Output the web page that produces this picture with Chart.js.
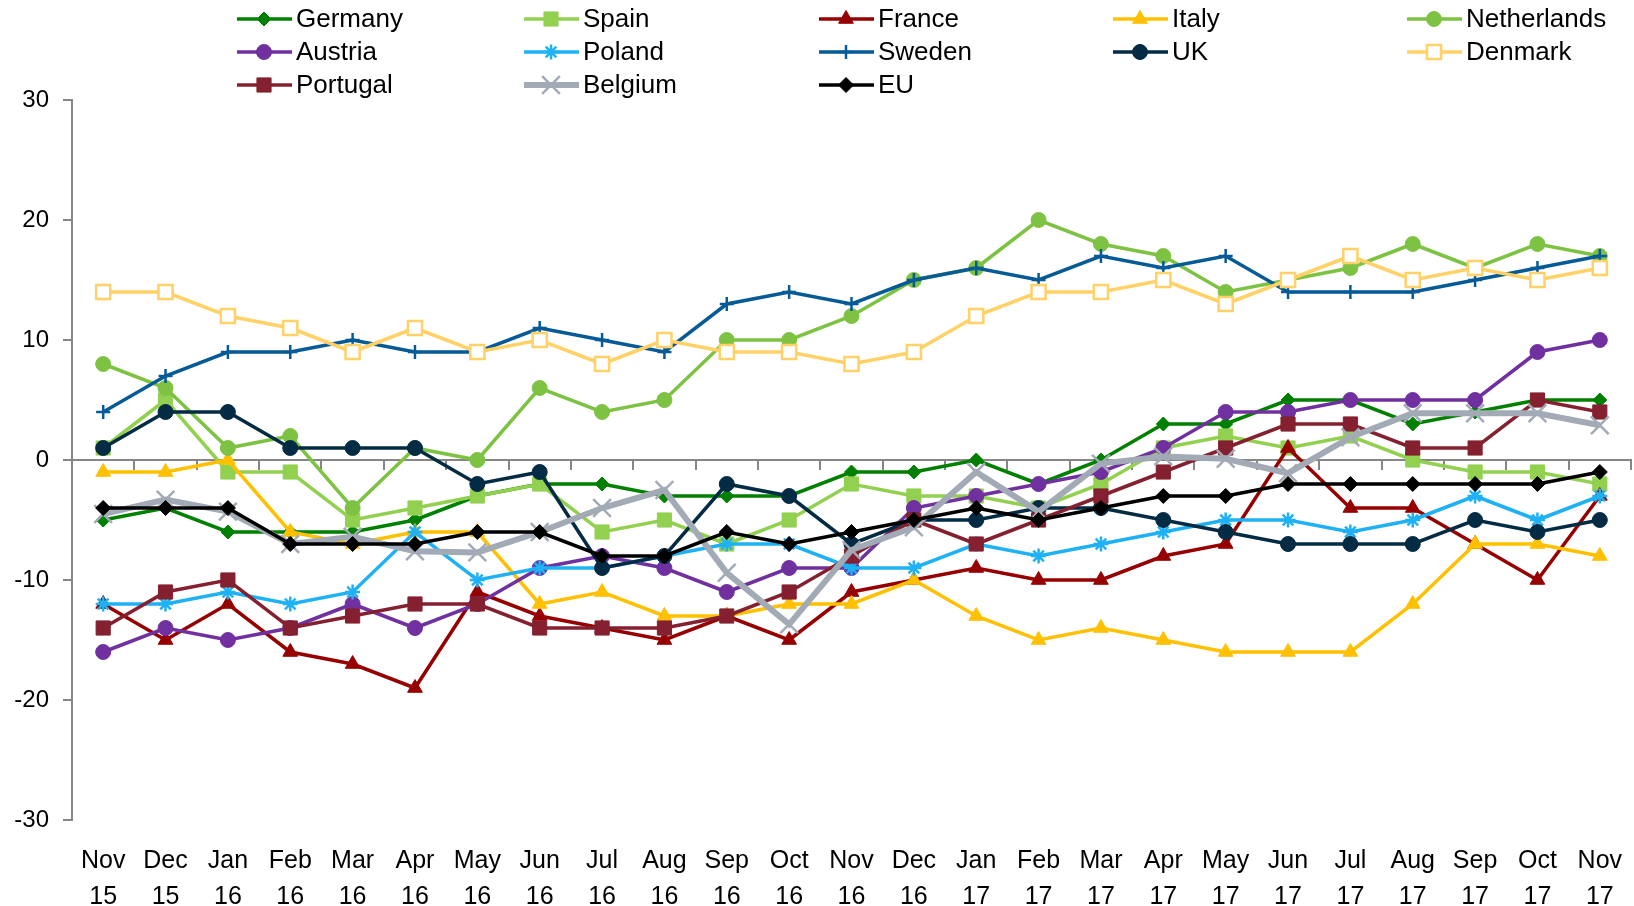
<!DOCTYPE html>
<html>
<head>
<meta charset="utf-8">
<title>Consumer confidence by country</title>
<script src="https://cdn.jsdelivr.net/npm/chart.js@4.4.1/dist/chart.umd.min.js"></script>
<style>
  html, body { margin: 0; padding: 0; background: #fff; }
  #wrap { width: 1634px; height: 906px; position: relative; }
</style>
</head>
<body>
<div id="wrap"><canvas id="chart"></canvas></div>
<script>
// ---------- Data ----------
const months = ["Nov", "Dec", "Jan", "Feb", "Mar", "Apr", "May", "Jun", "Jul", "Aug", "Sep", "Oct", "Nov",
                "Dec", "Jan", "Feb", "Mar", "Apr", "May", "Jun", "Jul", "Aug", "Sep", "Oct", "Nov"];
const years = ["15", "15", "16", "16", "16", "16", "16", "16", "16", "16", "16", "16", "16",
               "16", "17", "17", "17", "17", "17", "17", "17", "17", "17", "17", "17"];

const germany     = [-5, -4, -6, -6, -6, -5, -3, -2, -2, -3, -3, -3, -1, -1, 0, -2, 0, 3, 3, 5, 5, 3, 4, 5, 5];
const spain       = [1, 5, -1, -1, -5, -4, -3, -2, -6, -5, -7, -5, -2, -3, -3, -4, -2, 1, 2, 1, 2, 0, -1, -1, -2];
const france      = [-12, -15, -12, -16, -17, -19, -11, -13, -14, -15, -13, -15, -11, -10, -9, -10, -10, -8, -7, 1, -4, -4, -7, -10, -3];
const italy       = [-1, -1, 0, -6, -7, -6, -6, -12, -11, -13, -13, -12, -12, -10, -13, -15, -14, -15, -16, -16, -16, -12, -7, -7, -8];
const netherlands = [8, 6, 1, 2, -4, 1, 0, 6, 4, 5, 10, 10, 12, 15, 16, 20, 18, 17, 14, 15, 16, 18, 16, 18, 17];
const austria     = [-16, -14, -15, -14, -12, -14, -12, -9, -8, -9, -11, -9, -9, -4, -3, -2, -1, 1, 4, 4, 5, 5, 5, 9, 10];
const poland      = [-12, -12, -11, -12, -11, -6, -10, -9, -9, -8, -7, -7, -9, -9, -7, -8, -7, -6, -5, -5, -6, -5, -3, -5, -3];
const sweden      = [4, 7, 9, 9, 10, 9, 9, 11, 10, 9, 13, 14, 13, 15, 16, 15, 17, 16, 17, 14, 14, 14, 15, 16, 17];
const uk          = [1, 4, 4, 1, 1, 1, -2, -1, -9, -8, -2, -3, -7, -5, -5, -4, -4, -5, -6, -7, -7, -7, -5, -6, -5];
const denmark     = [14, 14, 12, 11, 9, 11, 9, 10, 8, 10, 9, 9, 8, 9, 12, 14, 14, 15, 13, 15, 17, 15, 16, 15, 16];
const portugal    = [-14, -11, -10, -14, -13, -12, -12, -14, -14, -14, -13, -11, -8, -5, -7, -5, -3, -1, 1, 3, 3, 1, 1, 5, 4];
const belgium     = [-4.5, -3.3, -4.3, -7, -6.4, -7.6, -7.7, -6, -4, -2.5, -9.4, -13.7, -7.5, -5.6, -1, -4.3, -0.3, 0.3, 0.1, -1.1, 1.9, 3.9, 3.9, 3.9, 2.9];
const eu          = [-4, -4, -4, -7, -7, -7, -6, -6, -8, -8, -6, -7, -6, -5, -4, -5, -4, -3, -3, -2, -2, -2, -2, -2, -1];

const yTicks = [-30, -20, -10, 0, 10, 20, 30];

// legend grid (row major, like the original)
const legendRows = [
  ["Germany", "Spain", "France", "Italy", "Netherlands"],
  ["Austria", "Poland", "Sweden", "UK", "Denmark"],
  ["Portugal", "Belgium", "EU"],
];

// ---------- Styles ----------
const FONT = '"Liberation Sans", Arial, sans-serif';
const AXIS_GREY = "#868686";

// name, values, colour, point style, radius, line width, hollow?
const series = [
  ["Germany", germany, "#008000", "rectRot", 7, 3.5],
  ["Spain", spain, "#92D050", "rect", 10, 3.5],
  ["France", france, "#960000", "triangle", 8.5, 3.5],
  ["Italy", italy, "#FFC000", "triangle", 8.5, 3.5],
  ["Netherlands", netherlands, "#7DC242", "circle", 7.5, 3.5],
  ["Austria", austria, "#7030A0", "circle", 7.5, 3.5],
  ["Poland", poland, "#1FB1F5", "star", 7.5, 3.5],
  ["Sweden", sweden, "#065A96", "cross", 7, 3.5],
  ["UK", uk, "#032B44", "circle", 7.5, 3.5],
  ["Denmark", denmark, "#FFD166", "rect", 10, 3.5, true],
  ["Portugal", portugal, "#84202F", "rect", 10, 3.5],
  ["Belgium", belgium, "#A2AAB5", "crossRot", 12.5, 6],
  ["EU", eu, "#000000", "rectRot", 7.5, 3.5],
];

const N = series.length;
const datasets = series.map(([name, data, color, style, r, lw, hollow], i) => {
  const lineStyle = style === "cross" || style === "crossRot" || style === "star";
  return {
    label: name,
    data: data,
    borderColor: color,
    borderWidth: lw,
    pointStyle: style,
    pointRadius: r,
    pointBackgroundColor: hollow ? "#ffffff" : color,
    pointBorderColor: color,
    pointBorderWidth: hollow ? 2.5 : (lineStyle ? 2.5 : 1),
    tension: 0,
    fill: false,
    order: N - i, // later series on top, like Excel
  };
});

// ---------- Legend drawn as a grid ----------
const legendColX = [237, 524, 819, 1113, 1407];
const legendRowY = [19, 52, 85];

const gridLegend = {
  id: "gridLegend",
  afterDraw(chart) {
    const ctx = chart.ctx;
    ctx.save();
    ctx.font = "26px " + FONT;
    ctx.textBaseline = "middle";
    legendRows.forEach((row, r) => {
      row.forEach((name, c) => {
        const ds = chart.data.datasets.find((d) => d.label === name);
        const x0 = legendColX[c];
        const y = legendRowY[r];
        ctx.strokeStyle = ds.borderColor;
        ctx.lineWidth = ds.borderWidth;
        ctx.beginPath();
        ctx.moveTo(x0, y);
        ctx.lineTo(x0 + 55, y);
        ctx.stroke();

        ctx.fillStyle = ds.pointBackgroundColor;
        ctx.strokeStyle = ds.pointBorderColor;
        ctx.lineWidth = ds.pointBorderWidth;
        Chart.helpers.drawPoint(ctx, {
          pointStyle: ds.pointStyle,
          radius: ds.pointRadius,
          borderWidth: ds.pointBorderWidth,
          rotation: 0,
        }, x0 + 27, y);

        ctx.fillStyle = "#000";
        ctx.fillText(name, x0 + 59, y + 1);
      });
    });
    ctx.restore();
  },
};

// ---------- Chart ----------
const labels = months.map((m, i) => [m, years[i]]);

new Chart(document.getElementById("chart"), {
  type: "line",
  data: { labels, datasets },
  options: {
    responsive: true,
    maintainAspectRatio: false,
    animation: false,
    layout: { autoPadding: false, padding: { top: 100, right: 3, left: 0, bottom: 0 } },
    plugins: {
      legend: { display: false },
      tooltip: { enabled: false },
    },
    scales: {
      x: {
        type: "category",
        position: "bottom",
        offset: true,
        grid: { display: false, drawTicks: false },
        border: { display: false },
        ticks: {
          font: { family: FONT, size: 25, lineHeight: 1.44 },
          color: "#000",
          maxRotation: 0,
          autoSkip: false,
          padding: 23,
        },
        afterFit(scale) {
          scale.height = 86;
          // labels sit inside their month slots, no side padding needed
          scale.paddingLeft = 0;
          scale.paddingRight = 0;
        },
      },
      // axis line through zero with tick marks between months
      zero: {
        type: "category",
        axis: "x",
        position: { y: 0 },
        offset: true,
        grid: {
          offset: true,
          drawOnChartArea: false,
          tickLength: 9,
          color: AXIS_GREY,
          lineWidth: 2,
        },
        border: { color: AXIS_GREY, width: 2 },
        ticks: { display: false },
      },
      y: {
        min: -30,
        max: 30,
        afterBuildTicks(scale) {
          scale.ticks = yTicks.map((v) => ({ value: v }));
        },
        grid: {
          drawOnChartArea: false,
          tickLength: 9,
          color: AXIS_GREY,
          lineWidth: 2,
        },
        border: { color: AXIS_GREY, width: 2 },
        ticks: {
          font: { family: FONT, size: 24 },
          color: "#000",
          padding: 14,
        },
        afterFit(scale) { scale.width = 72; },
      },
    },
  },
  plugins: [gridLegend],
});
</script>
</body>
</html>
